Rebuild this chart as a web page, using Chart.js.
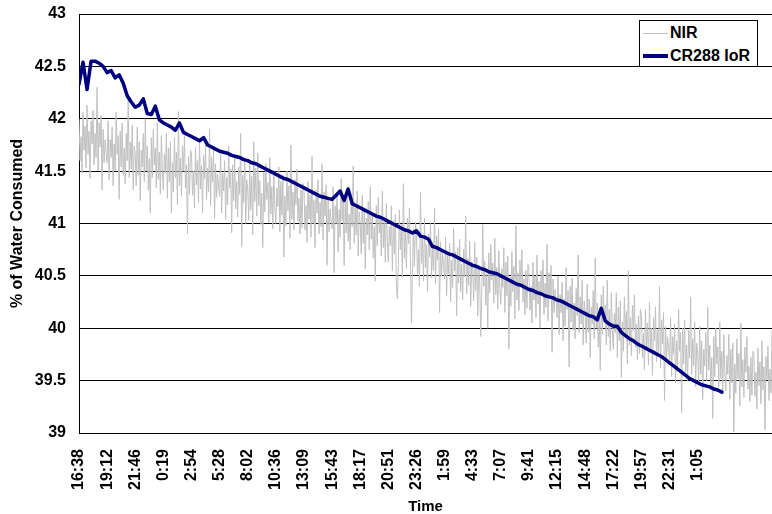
<!DOCTYPE html>
<html><head><meta charset="utf-8">
<script src="https://cdn.jsdelivr.net/npm/chart.js@4.4.1/dist/chart.umd.min.js"></script>
<style>
html,body{margin:0;padding:0;background:#fff;}
#wrap{position:relative;width:772px;height:514px;}
#legend{position:absolute;left:639px;top:20px;width:117px;height:45px;border:1px solid #000;background:#fff;font:bold 16px Arial,'Liberation Sans',sans-serif;color:#000;}
.row{position:absolute;left:0;height:20px;display:flex;align-items:center;white-space:nowrap;}
.sw{display:inline-block;width:25px;margin-left:3px;margin-right:2px;}
</style></head>
<body><div id="wrap"><canvas id="c" width="772" height="514"></canvas><div id="legend"></div></div>
<script>
const tickLabels = ['16:38','19:12','21:46','0:19','2:54','5:28','8:02','10:36','13:09','15:43','18:17','20:51','23:26','1:59','4:33','7:07','9:41','12:15','14:48','17:22','19:57','22:31','1:05'];
const tickStepMinutes = 154;
const nirStepMinutes = 5.5;
const iorStepMinutes = 22;
const seriesNames = ['NIR', 'CR288 IoR'];

// NIR readings, one row per 154-minute label interval
const nirValues = [
42.00,41.60,41.83,41.48,42.06,41.70,41.93,41.53,42.13,41.66,41.88,41.43,41.98,41.76,42.08,41.56,41.86,41.63,42.30,41.50,41.96,41.73,42.03,41.32,41.90,41.58,41.80,41.68,
41.58,41.98,41.42,41.80,41.63,41.92,41.36,41.76,41.50,42.06,41.66,41.84,41.23,41.88,41.54,41.96,41.46,41.72,41.38,41.86,41.60,42.18,41.44,41.78,41.52,41.94,41.32,41.74,
41.66,41.36,41.92,41.46,41.78,41.22,41.70,41.54,41.86,41.40,42.00,41.50,41.74,41.32,41.62,41.10,41.82,41.44,41.90,41.56,41.72,41.34,41.96,41.42,41.68,41.28,41.84,41.48,
41.32,41.66,41.48,41.86,41.24,41.72,41.40,41.78,41.10,41.58,41.30,41.82,41.44,41.68,41.18,42.07,41.36,41.62,41.26,41.74,41.50,41.84,41.34,41.56,40.90,41.64,41.28,41.70,
41.67,41.27,41.50,41.15,41.73,41.37,41.60,41.20,41.80,41.33,41.55,41.10,41.65,41.43,41.75,41.23,41.53,41.30,41.90,41.17,41.63,41.40,41.70,41.05,41.57,41.25,41.47,41.35,
41.26,41.66,41.10,41.48,41.31,41.60,41.04,41.44,41.18,41.74,41.34,41.52,40.91,41.56,41.22,41.64,41.14,41.40,41.06,41.54,41.28,41.86,40.78,41.46,41.20,41.62,41.00,41.42,
41.33,41.03,41.59,41.13,41.45,40.89,41.78,41.21,41.53,41.07,41.67,41.17,41.41,40.99,41.29,40.77,41.49,41.11,41.57,41.23,41.39,41.01,41.63,41.09,41.35,40.95,41.51,41.15,
41.00,41.34,41.16,41.54,40.92,41.40,41.08,41.46,40.68,41.26,40.98,41.50,41.12,41.36,40.86,41.75,41.04,41.30,40.94,41.42,41.18,41.52,41.02,41.24,40.90,41.32,40.96,41.38,
41.34,40.94,41.17,40.82,41.40,41.04,41.27,40.87,41.64,41.00,41.22,40.77,41.32,41.10,41.42,40.90,41.20,40.97,41.57,40.84,41.30,41.07,41.37,40.60,41.24,40.92,41.14,41.02,
40.95,41.35,40.53,41.17,41.00,41.29,40.73,41.13,40.87,41.43,41.03,41.21,40.60,41.25,40.91,41.33,40.83,41.09,40.75,41.23,40.97,41.55,40.81,41.15,40.89,41.31,40.69,41.11,
41.01,40.71,41.27,40.81,41.13,40.57,41.05,40.89,41.21,40.75,41.35,40.85,41.09,40.67,40.97,40.45,41.17,40.79,41.25,40.91,41.07,40.69,41.31,40.77,41.03,40.63,41.19,40.83,
40.63,40.97,40.79,41.17,40.55,41.03,40.71,41.09,40.41,40.28,40.61,41.13,40.75,40.99,40.49,41.38,40.67,40.93,40.57,41.05,40.81,41.15,40.65,40.05,40.53,40.95,40.59,41.01,
40.92,40.52,40.75,40.40,41.30,40.62,40.85,40.45,41.05,40.58,40.80,40.35,40.90,40.68,41.00,40.48,40.78,40.55,41.15,40.42,40.88,40.65,40.95,40.15,40.82,40.50,40.72,40.60,
40.47,40.87,40.31,40.69,40.52,40.81,40.25,40.65,40.39,40.95,40.55,40.73,40.12,40.77,40.43,40.85,40.35,40.61,40.27,40.75,40.49,41.07,40.33,40.67,40.41,40.83,40.21,40.63,
40.56,40.26,40.82,40.36,40.68,40.12,40.60,40.44,39.92,40.30,40.99,40.40,40.64,40.22,40.52,40.00,40.72,40.34,40.80,40.46,40.62,40.24,40.86,40.32,40.58,40.18,40.74,40.38,
40.23,40.57,40.39,40.77,40.15,40.63,40.31,40.69,39.80,40.49,40.21,40.73,40.35,40.59,40.09,40.98,40.27,40.53,40.17,40.65,40.41,40.75,40.25,40.47,40.13,40.55,40.19,40.61,
40.57,40.17,40.40,40.05,40.63,40.27,40.50,40.10,40.70,40.23,40.45,40.00,40.55,40.33,40.65,40.13,40.43,40.20,40.80,40.07,40.53,40.30,40.60,39.77,40.47,40.15,40.37,40.25,
40.10,40.50,39.94,40.32,40.15,40.44,39.88,40.28,40.02,40.58,40.18,40.36,39.63,40.40,40.06,40.48,39.98,40.24,39.90,40.38,40.12,40.70,39.96,40.30,40.04,40.46,39.84,40.26,
40.16,39.86,40.42,39.96,40.28,39.72,40.20,40.04,40.36,39.90,40.67,40.00,40.24,39.82,40.12,39.60,40.32,39.94,40.40,40.06,40.22,39.84,40.46,39.92,40.18,39.78,40.34,39.98,
39.80,40.14,39.96,40.34,39.72,40.20,39.88,40.26,39.53,40.06,39.78,40.30,39.92,40.16,39.66,40.55,39.84,40.10,39.74,40.22,39.98,40.32,39.82,40.04,39.70,40.12,39.76,40.18,
40.12,39.72,39.95,39.60,40.18,39.82,40.05,39.65,40.25,39.78,40.00,39.55,40.10,39.88,40.20,39.68,39.98,39.75,40.40,39.62,40.08,39.85,40.15,39.31,40.02,39.70,39.92,39.80,
39.70,40.10,39.54,39.92,39.75,40.04,39.48,39.88,39.62,40.18,39.78,39.96,39.19,40.00,39.66,40.08,39.58,39.84,39.50,39.98,39.72,40.30,39.56,39.90,39.64,40.06,39.44,39.86,
39.76,39.46,40.02,39.56,39.88,39.32,39.80,39.64,39.96,39.50,40.20,39.60,39.84,39.42,39.72,39.14,39.92,39.54,40.00,39.66,39.82,39.44,40.06,39.52,39.78,39.38,39.94,39.58,
39.40,39.74,39.56,39.94,39.32,39.80,39.48,39.86,39.01,39.66,39.38,39.90,39.52,39.76,39.26,40.05,39.44,39.70,39.34,39.82,39.58,39.92,39.42,39.64,39.30,39.72,39.36,39.78,
39.75,39.35,39.58,39.23,39.81,39.45,39.68,39.28,39.88,39.41,39.63,39.03,39.73,39.51,39.83,39.31,39.61,39.38,39.98
];

// CR288 IoR readings every 22 minutes
const iorValues = [
42.33,42.54,42.28,42.55,42.55,42.53,42.50,42.44,42.46,42.39,
42.42,42.34,42.22,42.16,42.11,42.13,42.19,42.05,42.04,42.12,
41.99,41.96,41.94,41.92,41.89,41.96,41.87,41.85,41.83,41.81,
41.79,41.82,41.75,41.73,41.71,41.69,41.68,41.67,41.65,41.64,
41.63,41.61,41.60,41.58,41.57,41.55,41.53,41.51,41.49,41.47,
41.45,41.43,41.42,41.40,41.38,41.36,41.34,41.32,41.30,41.28,
41.26,41.25,41.24,41.23,41.27,41.31,41.22,41.33,41.19,41.17,
41.15,41.13,41.11,41.09,41.07,41.06,41.04,41.02,41.00,40.98,
40.96,40.94,40.93,40.91,40.93,40.88,40.87,40.85,40.78,40.77,
40.75,40.73,40.71,40.70,40.68,40.66,40.64,40.62,40.60,40.59,
40.57,40.56,40.54,40.53,40.52,40.50,40.48,40.46,40.44,40.42,
40.41,40.39,40.37,40.36,40.34,40.33,40.31,40.30,40.29,40.27,
40.26,40.24,40.22,40.20,40.18,40.16,40.14,40.12,40.11,40.08,
40.19,40.07,40.04,40.02,40.02,39.96,39.93,39.90,39.88,39.85,
39.83,39.81,39.79,39.77,39.75,39.73,39.70,39.67,39.64,39.61,
39.58,39.55,39.52,39.50,39.48,39.46,39.45,39.44,39.42,39.41,
39.39
];

const FONT = "Arial, 'Liberation Sans', sans-serif";
const seriesColors = ['#C0C0C0', '#000080'];
const seriesWidths = [1, 3.5];

const legend = document.getElementById('legend');
seriesNames.forEach((name, i) => {
  const row = document.createElement('div');
  row.className = 'row';
  row.style.top = (2 + i * 23) + 'px';
  const sw = document.createElement('span');
  sw.className = 'sw';
  sw.style.borderTop = Math.round(seriesWidths[i]) + 'px solid ' + seriesColors[i];
  const tx = document.createElement('span');
  tx.textContent = name;
  row.appendChild(sw); row.appendChild(tx);
  legend.appendChild(row);
});

new Chart(document.getElementById('c'), {
  type: 'line',
  data: {
    datasets: [
      { label: seriesNames[0], data: nirValues.map((v, i) => ({ x: i * nirStepMinutes, y: v })),
        borderColor: seriesColors[0], borderWidth: seriesWidths[0], pointRadius: 0, tension: 0, order: 2 },
      { label: seriesNames[1], data: iorValues.map((v, i) => ({ x: i * iorStepMinutes, y: v })),
        borderColor: seriesColors[1], borderWidth: seriesWidths[1], borderJoinStyle: 'round', borderCapStyle: 'round',
        pointRadius: 0, tension: 0, order: 1 }
    ]
  },
  options: {
    responsive: false, animation: false, devicePixelRatio: 1,
    layout: { padding: { top: 14, left: 0, right: 0, bottom: 0 } },
    plugins: { legend: { display: false }, tooltip: { enabled: false } },
    scales: {
      x: {
        type: 'linear', min: 0, max: (nirValues.length - 1) * nirStepMinutes,
        grid: { display: false },
        border: { display: true, color: '#000', width: 1 },
        afterBuildTicks: s => { s.ticks = tickLabels.map((_, i) => ({ value: i * tickStepMinutes })); },
        ticks: { autoSkip: false, minRotation: 90, maxRotation: 90, padding: 8, color: '#000',
          font: { family: FONT, size: 16, weight: 'bold' }, callback: (v, i) => tickLabels[i] },
        title: { display: true, text: 'Time', color: '#000', font: { family: FONT, size: 15, weight: 'bold' }, padding: { top: 0, bottom: -2 } },
        afterFit: s => { s.height = 81; s.paddingLeft = 0; s.paddingRight = 0; }
      },
      y: {
        min: 39, max: 43,
        ticks: { stepSize: 0.5, padding: 13, color: '#000', font: { family: FONT, size: 16, weight: 'bold' }, callback: v => String(v) },
        grid: { color: '#000', lineWidth: 1, drawTicks: false },
        border: { display: true, color: '#000', width: 1 },
        title: { display: true, text: '% of Water Consumed', color: '#000', font: { family: FONT, size: 16, weight: 'bold' }, padding: { top: 8, bottom: 0 } },
        afterFit: s => { s.width = 79; s.paddingTop = 0; s.paddingBottom = 0; }
      }
    }
  }
});
</script>
</body></html>
